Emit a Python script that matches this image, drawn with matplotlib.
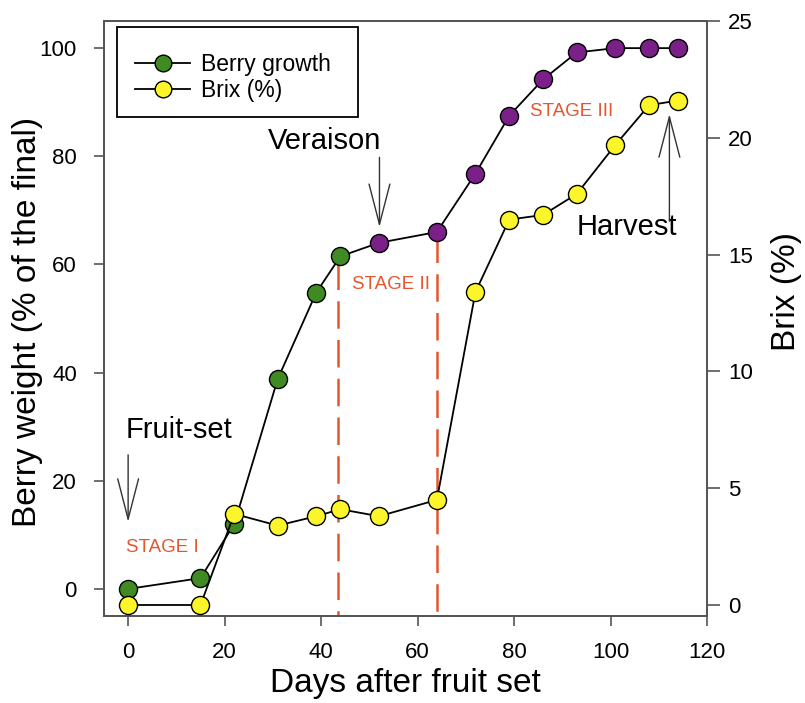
import matplotlib
matplotlib.use("Agg")
import matplotlib.pyplot as plt
from matplotlib.lines import Line2D
from matplotlib.patches import Rectangle

plt.rcParams['font.family'] = ['Liberation Sans', 'DejaVu Sans']

# ---- data ----
days = [0, 15, 22, 31, 39, 44, 52, 64, 72, 79, 86, 93, 101, 108, 114]
berry_weight = [0, 2, 12, 38.8, 54.8, 61.5, 64, 66, 76.8, 87.5, 94.2, 99.2, 100, 100, 100]
brix = [0, 0, 3.9, 3.4, 3.8, 4.1, 3.8, 4.5, 13.4, 16.5, 16.7, 17.6, 19.7, 21.4, 21.6]
n_green = 6  # first six berry points green, rest purple (post-veraison)
stage_lines_x = [43.6, 64]
stage_lines_top = [60.5, 65.5]

x_ticks = [0, 20, 40, 60, 80, 100, 120]
y_left_ticks = [0, 20, 40, 60, 80, 100]
y_right_ticks = [0, 5, 10, 15, 20, 25]

GREEN = '#3f8a22'
PURPLE = '#7b2089'
YELLOW = '#fcf52a'
RED = '#e4572e'
SPINE = '#555555'

fig = plt.figure(figsize=(8.05, 7.03), dpi=100)
ax = fig.add_axes([0.1292, 0.1238, 0.7491, 0.8462])
ax2 = ax.twinx()

ax.set_xlim(-5, 120)
ax.set_ylim(-5, 105)
ax2.set_ylim(-0.47, 25)

# dashed stage lines (drawn from top down so the dash pattern starts at the marker)
for xv, top in zip(stage_lines_x, stage_lines_top):
    ax.plot([xv, xv], [top, -5], color=RED, lw=1.8, dashes=(11, 4.5), zorder=1)

# berry growth
ax.plot(days, berry_weight, color='black', lw=1.3, zorder=3)
ax.plot(days[:n_green], berry_weight[:n_green], 'o', ms=13, mfc=GREEN, mec='black', mew=1.0, zorder=4)
ax.plot(days[n_green:], berry_weight[n_green:], 'o', ms=13, mfc=PURPLE, mec='black', mew=1.0, zorder=4)

# brix on right axis
ax2.plot(days, brix, color='black', lw=1.3, zorder=3)
ax2.plot(days, brix, 'o', ms=13, mfc=YELLOW, mec='black', mew=1.0, zorder=4)

# ticks and spines
ax.set_xticks(x_ticks)
ax.set_yticks(y_left_ticks)
ax2.set_yticks(y_right_ticks)
for a in (ax, ax2):
    for s in a.spines.values():
        s.set_color(SPINE)
        s.set_linewidth(1.3)
    a.tick_params(direction='out', length=7, width=1.2, color=SPINE, labelsize=16, pad=12.5)
ax.tick_params(axis='x', pad=12)
ax2.tick_params(axis='y', length=9, pad=6)

ax.set_xlabel('Days after fruit set', fontsize=24, va='center')
ax.xaxis.set_label_coords(0.5, -0.114)
ax.set_ylabel('Berry weight (% of the final)', fontsize=24, va='center')
ax.yaxis.set_label_coords(-0.127, 0.494)
ax2.set_ylabel('Brix (%)', fontsize=24, va='center')
ax2.yaxis.set_label_coords(1.132, 0.545)

# annotations
arrow = dict(arrowstyle='->,head_length=2.9,head_width=0.75', color='#333333', lw=1.0,
             mutation_scale=10, shrinkA=0, shrinkB=0)
ax.annotate('', xy=(0, 12.4), xytext=(0, 24.8), arrowprops=arrow, zorder=5)
ax.annotate('', xy=(52.1, 66.9), xytext=(52.1, 79.8), arrowprops=arrow, zorder=5)
ax.annotate('', xy=(112.2, 87.8), xytext=(112.2, 68), arrowprops=arrow, zorder=5)

ax.text(10.6, 29.4, 'Fruit-set', fontsize=21, ha='center', va='center')
ax.text(40.7, 82.8, 'Veraison', fontsize=21, ha='center', va='center')
ax.text(103.3, 67.0, 'Harvest', fontsize=21, ha='center', va='center')

ax.text(7.2, 7.7, 'STAGE I', fontsize=13.5, color=RED, ha='center', va='center')
ax.text(54.5, 56.3, 'STAGE II', fontsize=13.5, color=RED, ha='center', va='center')
ax.text(91.9, 88.3, 'STAGE III', fontsize=13.5, color=RED, ha='center', va='center')

# legend box
ax.add_patch(Rectangle((0.0216, 0.8387), 0.3996, 0.1512, transform=ax.transAxes,
                       facecolor='white', edgecolor='black', lw=1.3, zorder=9))
handles = [
    Line2D([], [], color='black', lw=1.3, marker='o', ms=12, mfc=GREEN, mec='black', mew=1.0),
    Line2D([], [], color='black', lw=1.3, marker='o', ms=12, mfc=YELLOW, mec='black', mew=1.0),
]
leg = ax.legend(handles, ['Berry growth', 'Brix (%)'], loc='upper left',
                bbox_to_anchor=(0.0514, 0.946), borderaxespad=0, borderpad=0,
                fontsize=16.5, frameon=False,
                handlelength=2.4, handletextpad=0.5, labelspacing=0.12)
leg.set_zorder(10)

fig.savefig('out.png', dpi=100)
